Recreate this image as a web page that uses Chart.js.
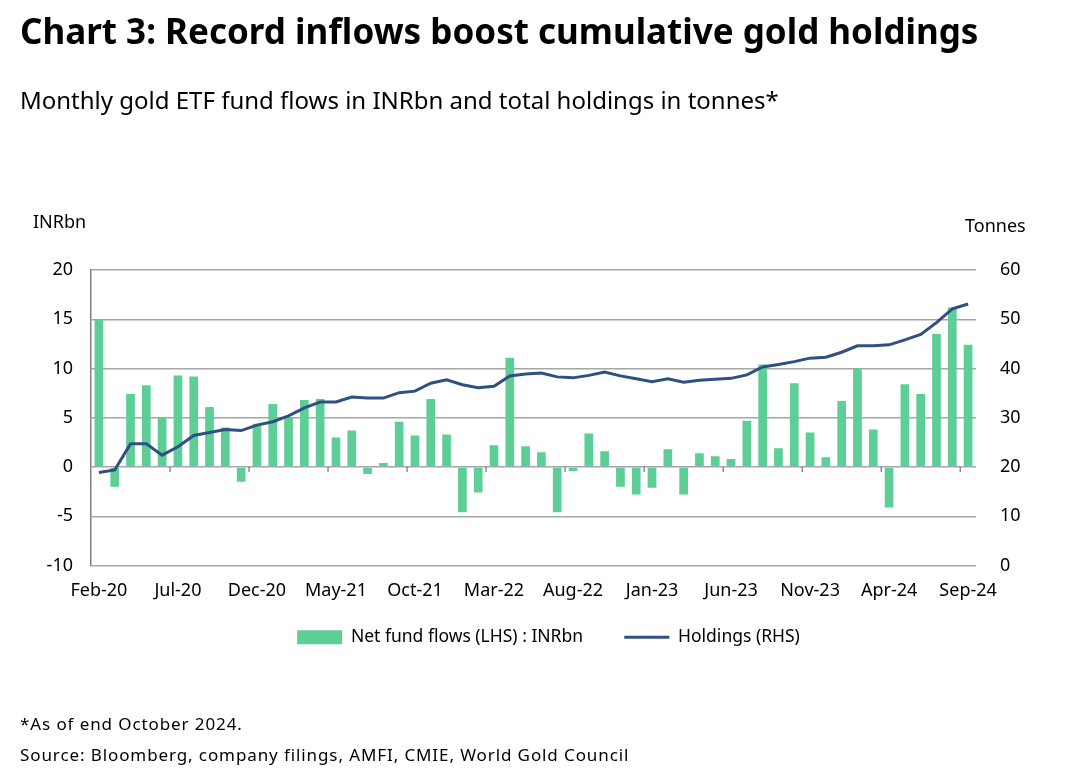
<!DOCTYPE html>
<html>
<head>
<meta charset="utf-8">
<script src="https://cdn.jsdelivr.net/npm/chart.js@4.4.1/dist/chart.umd.min.js"></script>
<style>
  body { margin: 0; background: #fff; font-family: "Noto Sans", sans-serif; }
  #wrap { position: relative; width: 1067px; height: 779px; }
  canvas { position: absolute; left: 0; top: 0; }
  .t { position: absolute; white-space: nowrap; line-height: 1.2; color: #000; }
</style>
</head>
<body>
<div id="wrap">
  <canvas id="myChart" width="1067" height="779"></canvas>
  <div class="t" style="left:20px;top:10px;font-size:35px;font-weight:bold;">Chart 3: Record inflows boost cumulative gold holdings</div>
  <div class="t" style="left:20px;top:86px;font-size:24px;">Monthly gold ETF fund flows in INRbn and total holdings in tonnes*</div>
  <div class="t" style="left:33px;top:211px;font-size:18px;">INRbn</div>
  <div class="t" style="left:965px;top:215px;font-size:18px;">Tonnes</div>
  <div class="t" style="left:20px;top:714px;font-size:17px;letter-spacing:0.9px;">*As of end October 2024.</div>
  <div class="t" style="left:20px;top:745px;font-size:17px;letter-spacing:0.9px;">Source: Bloomberg, company filings, AMFI, CMIE, World Gold Council</div>
</div>
<script>
const months = [
  'Feb-20', 'Mar-20', 'Apr-20', 'May-20', 'Jun-20', 'Jul-20', 'Aug-20', 'Sep-20', 'Oct-20', 'Nov-20', 'Dec-20',
  'Jan-21', 'Feb-21', 'Mar-21', 'Apr-21', 'May-21', 'Jun-21', 'Jul-21', 'Aug-21', 'Sep-21', 'Oct-21', 'Nov-21', 'Dec-21',
  'Jan-22', 'Feb-22', 'Mar-22', 'Apr-22', 'May-22', 'Jun-22', 'Jul-22', 'Aug-22', 'Sep-22', 'Oct-22', 'Nov-22', 'Dec-22',
  'Jan-23', 'Feb-23', 'Mar-23', 'Apr-23', 'May-23', 'Jun-23', 'Jul-23', 'Aug-23', 'Sep-23', 'Oct-23', 'Nov-23', 'Dec-23',
  'Jan-24', 'Feb-24', 'Mar-24', 'Apr-24', 'May-24', 'Jun-24', 'Jul-24', 'Aug-24', 'Sep-24',
];

// net fund flows, INRbn (left axis)
const flows = [
  15.0, -2.0, 7.4, 8.3, 5.0, 9.3, 9.2, 6.1, 4.0, -1.5, 4.4,
  6.4, 5.0, 6.8, 6.9, 3.0, 3.7, -0.7, 0.4, 4.6, 3.2, 6.9, 3.3,
  -4.6, -2.6, 2.2, 11.1, 2.1, 1.5, -4.6, -0.4, 3.4, 1.6, -2.0, -2.8,
  -2.1, 1.8, -2.8, 1.4, 1.1, 0.8, 4.7, 10.4, 1.9, 8.5, 3.5, 1.0,
  6.7, 10.0, 3.8, -4.1, 8.4, 7.4, 13.5, 16.2, 12.4,
];

// total holdings, tonnes (right axis)
const holdings = [
  18.9, 19.4, 24.7, 24.7, 22.4, 24.1, 26.4, 27.0, 27.6, 27.4, 28.5,
  29.2, 30.4, 32.0, 33.2, 33.2, 34.2, 34.0, 34.0, 35.1, 35.4, 37.0, 37.7,
  36.7, 36.1, 36.4, 38.5, 38.9, 39.1, 38.3, 38.1, 38.6, 39.3, 38.5, 37.9,
  37.3, 37.9, 37.2, 37.6, 37.8, 38.0, 38.7, 40.3, 40.8, 41.4, 42.1, 42.3,
  43.3, 44.6, 44.6, 44.8, 45.8, 46.9, 49.3, 52.1, 53.1,
];

const leftTicks = [-10, -5, 0, 5, 10, 15, 20];
const rightTicks = [0, 10, 20, 30, 40, 50, 60];

const tickFont = { family: 'Noto Sans', size: 18 };

// little tick marks on the zero line, every 5 months
const zeroTicks = {
  id: 'zeroTicks',
  beforeDatasetsDraw(chart) {
    const { ctx, scales: { x, y } } = chart;
    const y0 = y.getPixelForValue(0);
    ctx.save();
    ctx.strokeStyle = '#595959';
    ctx.lineWidth = 1;
    for (let i = 5; i < months.length; i += 5) {
      const xp = (x.getPixelForValue(i - 1) + x.getPixelForValue(i)) / 2;
      ctx.beginPath();
      ctx.moveTo(xp, y0);
      ctx.lineTo(xp, y0 + 5);
      ctx.stroke();
    }
    ctx.restore();
  }
};

const data = {
  labels: months,
  datasets: [{
    type: 'bar',
    label: 'Net fund flows (LHS) : INRbn',
    data: flows,
    backgroundColor: '#5dce96',
    yAxisID: 'y',
    order: 1,
    categoryPercentage: 1,
    barPercentage: 0.55,
    pointStyle: 'rect',
  }, {
    type: 'line',
    label: 'Holdings (RHS)',
    data: holdings,
    borderColor: '#2f5080',
    backgroundColor: '#2f5080',
    borderWidth: 3,
    pointRadius: 0,
    tension: 0,
    yAxisID: 'y1',
    order: 0,
    pointStyle: 'line',
  }]
};

const config = {
  type: 'bar',
  data: data,
  plugins: [zeroTicks],
  options: {
    responsive: false,
    animation: false,
    layout: { padding: { left: 30, right: 0, top: 270, bottom: 123 } },
    plugins: {
      tooltip: { enabled: false },
      legend: {
        position: 'bottom',
        labels: {
          usePointStyle: true,
          pointStyleWidth: 45,
          boxHeight: 14,
          padding: 23,
          color: '#000',
          font: { family: 'Noto Sans', size: 17.5 },
          sort: (a, b) => a.datasetIndex - b.datasetIndex,
          // a bit of extra room after the first item, like the original
          generateLabels: chart => {
            const items = Chart.defaults.plugins.legend.labels.generateLabels(chart);
            items.forEach(it => { if (it.datasetIndex === 0) it.text += '    '; });
            return items;
          },
        }
      }
    },
    scales: {
      x: {
        grid: { display: false, drawTicks: false },
        border: { display: false },
        ticks: {
          autoSkip: false,
          maxRotation: 0,
          padding: 15,
          color: '#000',
          font: tickFont,
          callback: (v, i) => (i % 5 === 0 ? months[i] : ''),
        },
        afterFit: s => { s.height = 40; },
      },
      y: {
        position: 'left',
        min: leftTicks[0],
        max: leftTicks[leftTicks.length - 1],
        afterBuildTicks: s => { s.ticks = leftTicks.map(v => ({ value: v })); },
        ticks: { padding: 18, color: '#000', font: tickFont },
        grid: { color: '#a6a6a6', lineWidth: 1.5, drawTicks: false },
        border: { color: '#808080', width: 1.5 },
        afterFit: s => { s.width = 61; },
      },
      y1: {
        position: 'right',
        min: rightTicks[0],
        max: rightTicks[rightTicks.length - 1],
        afterBuildTicks: s => { s.ticks = rightTicks.map(v => ({ value: v })); },
        ticks: { padding: 24, color: '#000', font: tickFont },
        grid: { display: false, drawTicks: false },
        border: { display: false },
        afterFit: s => { s.width = 91; },
      }
    }
  }
};

const myChart = new Chart(document.getElementById('myChart'), config);
</script>
</body>
</html>
